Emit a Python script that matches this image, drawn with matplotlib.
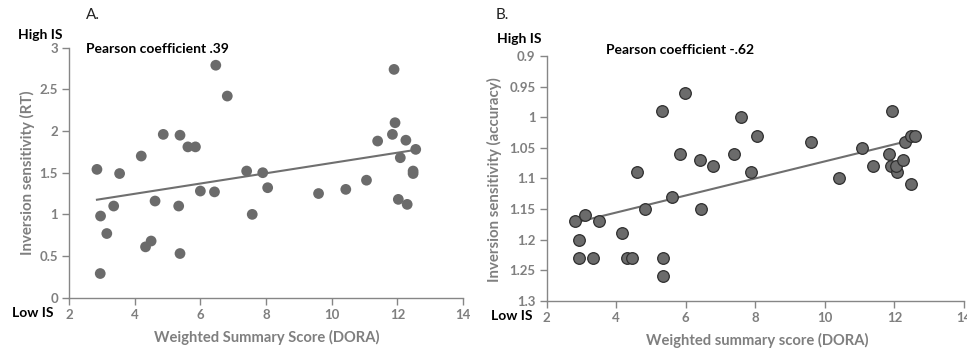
import matplotlib
matplotlib.use("Agg")
import matplotlib.pyplot as plt
import numpy as np
from matplotlib.ticker import FuncFormatter

plt.rcParams['font.family'] = ['Lato', 'DejaVu Sans']
plt.rcParams['font.weight'] = 'bold'

# Panel A data (RT)
xa = [2.85, 2.96, 2.95, 3.15, 3.36, 3.54, 4.20, 4.33, 4.50, 4.62, 4.87, 5.34, 5.38, 5.38,
      5.62, 5.85, 6.00, 6.43, 6.47, 6.82, 7.41, 7.58, 7.90, 8.05, 9.60, 10.43, 11.06, 11.40,
      11.85, 11.90, 11.93, 12.03, 12.09, 12.26, 12.30, 12.48, 12.48, 12.56]
ya = [1.54, 0.98, 0.29, 0.77, 1.10, 1.49, 1.70, 0.61, 0.68, 1.16, 1.96, 1.10, 1.95, 0.53,
      1.81, 1.81, 1.28, 1.27, 2.79, 2.42, 1.52, 1.00, 1.50, 1.32, 1.25, 1.30, 1.41, 1.88,
      1.96, 2.74, 2.10, 1.18, 1.68, 1.89, 1.12, 1.52, 1.49, 1.78]

# Panel B data (accuracy)
xb = [2.81, 2.93, 2.92, 3.11, 3.33, 3.50, 4.17, 4.30, 4.46, 4.60, 4.84, 5.31, 5.35, 5.35,
      5.61, 5.82, 5.98, 6.40, 6.45, 6.78, 7.39, 7.58, 7.89, 8.04, 9.60, 10.42, 11.07, 11.39,
      11.83, 11.93, 11.89, 12.08, 12.05, 12.26, 12.30, 12.48, 12.48, 12.59]
yb = [1.17, 1.20, 1.23, 1.16, 1.23, 1.17, 1.19, 1.23, 1.23, 1.09, 1.15, 0.99, 1.23, 1.26,
      1.13, 1.06, 0.96, 1.07, 1.15, 1.08, 1.06, 1.00, 1.09, 1.03, 1.04, 1.10, 1.05, 1.08,
      1.06, 0.99, 1.08, 1.09, 1.08, 1.07, 1.04, 1.11, 1.03, 1.03]

xticks = [2, 4, 6, 8, 10, 12, 14]
yticks_a = [0, 0.5, 1, 1.5, 2, 2.5, 3]
yticks_b = [0.9, 0.95, 1, 1.05, 1.1, 1.15, 1.2, 1.25, 1.3]

GREY_TXT = '#7f7f7f'
AX_COL = '#868686'
DOT = '#6b6b6b'

fig = plt.figure(figsize=(9.67, 3.51), dpi=100)
axA = fig.add_axes([0.0714, 0.1519, 0.4074, 0.7121])
axB = fig.add_axes([0.5653, 0.1433, 0.4316, 0.6972])

def fmt(v, pos):
    return ('%g' % round(v, 3))

def style(ax):
    for s in ['top', 'right']:
        ax.spines[s].set_visible(False)
    for s in ['left', 'bottom']:
        ax.spines[s].set_color(AX_COL)
        ax.spines[s].set_linewidth(1.0)
    ax.tick_params(axis='both', direction='out', length=5, width=1.0, color=AX_COL,
                   labelcolor=GREY_TXT, labelsize=9.5, pad=3)
    ax.xaxis.set_major_formatter(FuncFormatter(fmt))
    ax.yaxis.set_major_formatter(FuncFormatter(fmt))

# Panel A
axA.scatter(xa, ya, s=60, color=DOT, edgecolors='none', zorder=3)
ka, ba = np.polyfit(xa, ya, 1)
lx = np.array([min(xa), max(xa)])
axA.plot(lx, ka * lx + ba, color='#6f6f6f', lw=1.5, zorder=2)
axA.set_xlim(2, 14)
axA.set_ylim(0, 3)
axA.set_xticks(xticks)
axA.set_yticks(yticks_a)
style(axA)
axA.set_ylabel('Inversion sensitivity (RT)', color=GREY_TXT, fontsize=10.8, fontweight='bold', va='center')
axA.set_xlabel('Weighted Summary Score (DORA)', color=GREY_TXT, fontsize=10.6, fontweight='bold', va='center')
axA.yaxis.set_label_coords(-0.1066, 0.5)
axA.xaxis.set_label_coords(0.5025, -0.161)

# Panel B
axB.scatter(xb, yb, s=70, color=DOT, edgecolors='#2e2e2e', linewidths=0.9, zorder=3)
kb, bb = np.polyfit(xb, yb, 1)
lx = np.array([min(xb), max(xb)])
axB.plot(lx, kb * lx + bb, color='#6f6f6f', lw=1.5, zorder=2)
axB.set_xlim(2, 14)
axB.set_ylim(1.3, 0.9)
axB.set_xticks(xticks)
axB.set_yticks(yticks_b)
style(axB)
axB.set_ylabel('Inversion sensitivity (accuracy)', color=GREY_TXT, fontsize=10.8, fontweight='bold', va='center')
axB.set_xlabel('Weighted summary score (DORA)', color=GREY_TXT, fontsize=10.6, fontweight='bold', va='center')
axB.yaxis.set_label_coords(-0.124, 0.493)
axB.xaxis.set_label_coords(0.504, -0.161)

def px(x, y):
    return x / 967, 1 - y / 351

fig.text(*px(86, 15), 'A.', fontsize=11, fontweight='normal', va='center', ha='left', color='#222222')
fig.text(*px(18, 35), 'High IS', fontsize=10, fontweight='bold', va='center', ha='left')
fig.text(*px(12, 313), 'Low IS', fontsize=10, fontweight='bold', va='center', ha='left')
fig.text(*px(86, 49), 'Pearson coefficient .39', fontsize=10, fontweight='bold', va='center', ha='left')

fig.text(*px(496, 15), 'B.', fontsize=11, fontweight='normal', va='center', ha='left', color='#222222')
fig.text(*px(497, 39), 'High IS', fontsize=10, fontweight='bold', va='center', ha='left')
fig.text(*px(491, 316), 'Low IS', fontsize=10, fontweight='bold', va='center', ha='left')
fig.text(*px(606, 50), 'Pearson coefficient -.62', fontsize=10, fontweight='bold', va='center', ha='left')

fig.savefig('out.png', dpi=100)
